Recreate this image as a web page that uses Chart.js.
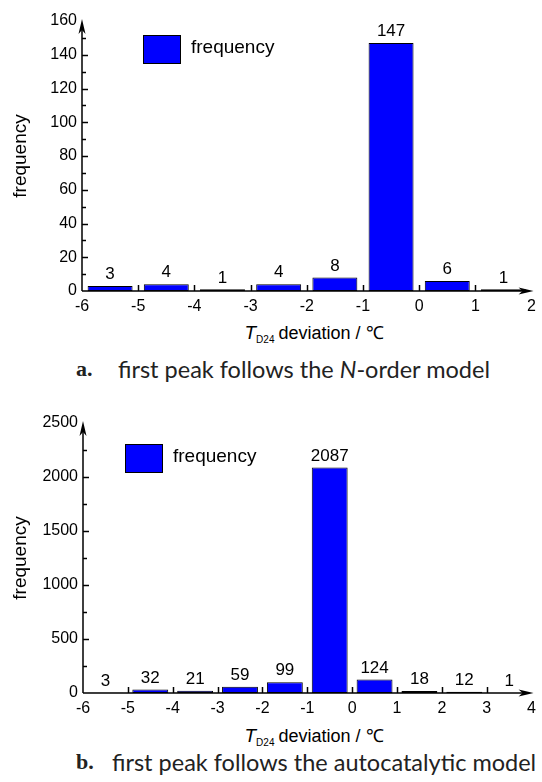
<!DOCTYPE html>
<html>
<head>
<meta charset="utf-8">
<script src="https://cdn.jsdelivr.net/npm/chart.js@4.4.1/dist/chart.umd.min.js"></script>
<style>
  html, body { margin: 0; padding: 0; background: #fff; }
  body { width: 542px; height: 782px; position: relative; overflow: hidden; }
  canvas.cv { position: absolute; left: 0; }
  .axt {
    position: absolute; white-space: nowrap; color: #000;
    font-family: "Liberation Sans", Arial, sans-serif;
    font-size: 18px; line-height: 24px; transform: translateX(-50%);
  }
  .axt i { font-style: italic; font-size: 19px; }
  .axt sub { font-size: 10px; vertical-align: -4px; line-height: 0; margin-right: 4px; }
  .cap { position: absolute; white-space: nowrap; color: #222; font-size: 23.5px; line-height: 26px; }
  .cap .lab { position: absolute; left: 0; font-family: "Liberation Serif", "DejaVu Serif", serif; font-weight: bold; font-size: 22px; }
  .cap .txt { position: absolute; font-family: Lato, "Open Sans", sans-serif; }
</style>
</head>
<body>
<canvas id="chartA" class="cv" width="542" height="320" style="top:0px;width:542px;height:320px"></canvas>
<canvas id="chartB" class="cv" width="542" height="320" style="top:400px;width:542px;height:320px"></canvas>

<div class="axt" style="left:314px;top:321px"><i>T</i><sub>D24</sub>deviation / ℃</div>
<div class="cap" style="left:76px;top:356px"><span class="lab">a.</span><span class="txt" style="left:42px">first peak follows the <i>N</i>-order model</span></div>

<div class="axt" style="left:314px;top:724px"><i>T</i><sub>D24</sub>deviation / ℃</div>
<div class="cap" style="left:76px;top:749px"><span class="lab">b.</span><span class="txt" style="left:36px">first peak follows the autocatalytic model</span></div>

<script>
// ---- data: (a) first peak follows the N-order model ----
const binCentersA = [-5.5, -4.5, -3.5, -2.5, -1.5, -0.5, 0.5, 1.5];
const countsA     = [3, 4, 1, 4, 8, 147, 6, 1];
const xRangeA     = [-6, 2];
const yMaxA = 160, yStepA = 20;

// ---- data: (b) first peak follows the autocatalytic model ----
const binCentersB = [-5.5, -4.5, -3.5, -2.5, -1.5, -0.5, 0.5, 1.5, 2.5, 3.5];
const countsB     = [3, 32, 21, 59, 99, 2087, 124, 18, 12, 1];
const xRangeB     = [-6, 4];
const yMaxB = 2500, yStepB = 500;

const seriesLabel = 'frequency';
const SANS = '"Liberation Sans", Arial, sans-serif';

// axis lines with arrow heads and inward tick marks
const axisDecor = {
  id: 'axisDecor',
  afterDraw(chart, args, o) {
    const { ctx, chartArea: a, scales: { x, y } } = chart;
    ctx.save();
    ctx.strokeStyle = '#000';
    ctx.fillStyle = '#000';
    ctx.lineWidth = 1.5;
    // y ticks (major + minor, pointing inward)
    for (let v = y.min + o.yStep / 2; v < y.max; v += o.yStep / 2) {
      const py = Math.round(y.getPixelForValue(v)) + 0.5;
      const major = Math.abs((v / o.yStep) - Math.round(v / o.yStep)) < 1e-6;
      ctx.beginPath();
      ctx.moveTo(a.left, py);
      ctx.lineTo(a.left + (major ? 6 : 4), py);
      ctx.stroke();
    }
    // x ticks at integers
    for (let v = x.min + 1; v < x.max; v += 1) {
      const px = Math.round(x.getPixelForValue(v)) + 0.5;
      ctx.beginPath();
      ctx.moveTo(px, a.bottom);
      ctx.lineTo(px, a.bottom - 6);
      ctx.stroke();
    }
    // axis lines
    ctx.beginPath();
    ctx.moveTo(a.left, a.bottom);
    ctx.lineTo(a.left, a.top + 8);
    ctx.moveTo(a.left, a.bottom);
    ctx.lineTo(a.right - 8, a.bottom);
    ctx.stroke();
    // arrow heads
    const tipY = a.top - 2;
    ctx.beginPath();
    ctx.moveTo(a.left, tipY);
    ctx.lineTo(a.left + 3.5, tipY + 15);
    ctx.lineTo(a.left, tipY + 11);
    ctx.lineTo(a.left - 3.5, tipY + 15);
    ctx.closePath();
    ctx.fill();
    const tipX = a.right + 2;
    ctx.beginPath();
    ctx.moveTo(tipX, a.bottom);
    ctx.lineTo(tipX - 15, a.bottom - 3.5);
    ctx.lineTo(tipX - 11, a.bottom);
    ctx.lineTo(tipX - 15, a.bottom + 3.5);
    ctx.closePath();
    ctx.fill();
    ctx.restore();
  }
};

// value printed above every bar
const barValues = {
  id: 'barValues',
  afterDatasetsDraw(chart) {
    const { ctx } = chart;
    const ds = chart.data.datasets[0];
    const meta = chart.getDatasetMeta(0);
    ctx.save();
    ctx.font = '17px ' + SANS;
    ctx.fillStyle = '#000';
    ctx.textAlign = 'center';
    ctx.textBaseline = 'bottom';
    meta.data.forEach((el, i) => {
      ctx.fillText(String(ds.data[i].y), el.x, el.y - 3);
    });
    ctx.restore();
  }
};

// framed legend swatch with the series name
const boxLegend = {
  id: 'boxLegend',
  afterDraw(chart, args, o) {
    const { ctx, chartArea: a } = chart;
    const ds = chart.data.datasets[0];
    const bx = a.left + o.dx, by = a.top + o.dy;
    ctx.save();
    ctx.fillStyle = ds.backgroundColor;
    ctx.strokeStyle = ds.borderColor;
    ctx.lineWidth = 1;
    ctx.fillRect(bx, by, 38, 29);
    ctx.strokeRect(bx + 0.5, by + 0.5, 37, 28);
    ctx.fillStyle = '#000';
    ctx.font = '19px ' + SANS;
    ctx.textBaseline = 'middle';
    ctx.fillText(ds.label, bx + 48, by + 13);
    ctx.restore();
  }
};

function histogram(id, centers, counts, xRange, yMax, yStep, geom) {
  const tickFont = { family: SANS, size: 16 };
  return new Chart(document.getElementById(id), {
    type: 'bar',
    data: {
      datasets: [{
        label: seriesLabel,
        data: centers.map((c, i) => ({ x: c, y: counts[i] })),
        backgroundColor: '#0000ff',
        borderColor: '#000000',
        borderWidth: 1,
        borderSkipped: false,
        categoryPercentage: 1,
        barPercentage: 0.8
      }]
    },
    options: {
      responsive: false,
      animation: false,
      events: [],
      layout: {
        autoPadding: false,
        padding: { top: geom.top, right: geom.right, left: 0, bottom: 0 }
      },
      scales: {
        x: {
          type: 'linear',
          min: xRange[0], max: xRange[1],
          offset: false,
          grid: { display: false, drawTicks: false },
          border: { display: false },
          ticks: { stepSize: 1, padding: 6, color: '#000', font: tickFont, maxRotation: 0, autoSkip: false,
                   callback: v => String(v) },
          afterFit(s) { s.height = 320 - geom.bottom; }
        },
        y: {
          min: 0, max: yMax,
          grid: { display: false, drawTicks: false },
          border: { display: false },
          ticks: { stepSize: yStep, padding: 5, color: '#000', font: tickFont, callback: v => String(v) },
          title: {
            display: true, text: seriesLabel, color: '#000',
            font: { family: SANS, size: 19 },
            padding: { top: 9, bottom: 0 }
          },
          afterFit(s) { s.width = geom.left; }
        }
      },
      plugins: {
        legend: { display: false },
        tooltip: { enabled: false },
        axisDecor: { yStep: yStep },
        boxLegend: { dx: geom.legX, dy: geom.legY }
      }
    },
    plugins: [axisDecor, barValues, boxLegend]
  });
}

histogram('chartA', binCentersA, countsA, xRangeA, yMaxA, yStepA,
  { left: 82, top: 21, right: 10, bottom: 291, legX: 61, legY: 14 });
histogram('chartB', binCentersB, countsB, xRangeB, yMaxB, yStepB,
  { left: 83, top: 23, right: 5, bottom: 293, legX: 42, legY: 21 });
</script>
</body>
</html>
